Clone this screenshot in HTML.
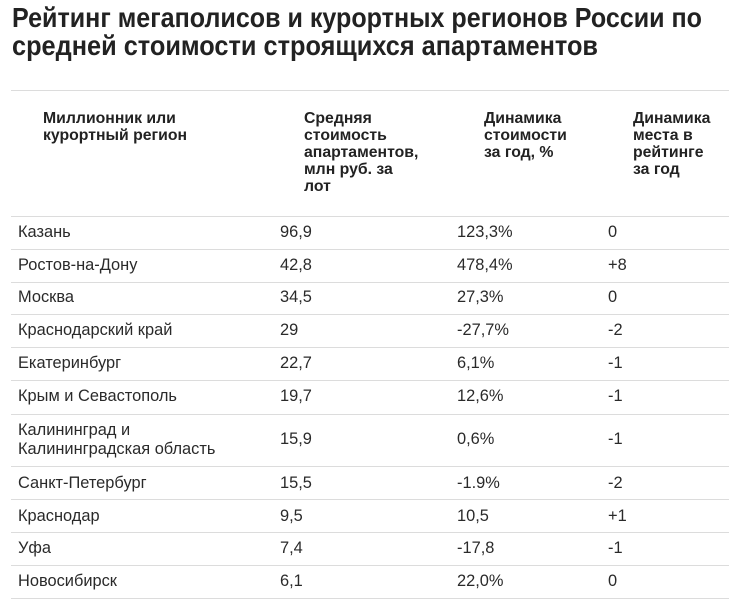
<!DOCTYPE html>
<html><head><meta charset="utf-8"><style>
body{margin:0;width:729px;height:599px;background:#fff;position:relative;overflow:hidden;font-family:"Liberation Sans","DejaVu Sans",sans-serif;color:#222}
.h{position:absolute;font-weight:bold;font-size:15.8px;line-height:17px;color:#222;white-space:nowrap}
.c{position:absolute;font-size:16.4px;line-height:19px;white-space:nowrap;color:#2a2a2a}
.ln{position:absolute;left:11px;right:0;height:1px;background:#dcdcdc}
</style></head><body>
<svg width="729" height="70" style="position:absolute;left:0;top:0">
<text x="12" y="27" font-family="Liberation Sans, sans-serif" font-weight="bold" font-size="28" fill="#222" textLength="690" lengthAdjust="spacingAndGlyphs">Рейтинг мегаполисов и курортных регионов России по</text>
<text x="12" y="55" font-family="Liberation Sans, sans-serif" font-weight="bold" font-size="28" fill="#222" textLength="586" lengthAdjust="spacingAndGlyphs">средней стоимости строящихся апартаментов</text>
</svg>
<div class="ln" style="top:90px"></div>
<div class="h" style="left:43px;top:110px">Миллионник или<br>курортный регион</div>
<div class="h" style="left:304px;top:110px">Средняя<br>стоимость<br>апартаментов,<br>млн руб. за<br>лот</div>
<div class="h" style="left:484px;top:110px">Динамика<br>стоимости<br>за год, %</div>
<div class="h" style="left:633px;top:110px">Динамика<br>места в<br>рейтинге<br>за год</div>
<div class="ln" style="top:216px"></div>
<div class="ln" style="top:249px"></div>
<div class="ln" style="top:282px"></div>
<div class="ln" style="top:314px"></div>
<div class="ln" style="top:347px"></div>
<div class="ln" style="top:380px"></div>
<div class="ln" style="top:414px"></div>
<div class="ln" style="top:466px"></div>
<div class="ln" style="top:499px"></div>
<div class="ln" style="top:532px"></div>
<div class="ln" style="top:565px"></div>
<div class="ln" style="top:598px"></div>

<div class="c" style="left:18px;top:223px">Казань</div><div class="c" style="left:280px;top:223px">96,9</div><div class="c" style="left:457px;top:223px">123,3%</div><div class="c" style="left:608px;top:223px">0</div>
<div class="c" style="left:18px;top:256px">Ростов-на-Дону</div><div class="c" style="left:280px;top:256px">42,8</div><div class="c" style="left:457px;top:256px">478,4%</div><div class="c" style="left:608px;top:256px">+8</div>
<div class="c" style="left:18px;top:288px">Москва</div><div class="c" style="left:280px;top:288px">34,5</div><div class="c" style="left:457px;top:288px">27,3%</div><div class="c" style="left:608px;top:288px">0</div>
<div class="c" style="left:18px;top:321px">Краснодарский край</div><div class="c" style="left:280px;top:321px">29</div><div class="c" style="left:457px;top:321px">-27,7%</div><div class="c" style="left:608px;top:321px">-2</div>
<div class="c" style="left:18px;top:354px">Екатеринбург</div><div class="c" style="left:280px;top:354px">22,7</div><div class="c" style="left:457px;top:354px">6,1%</div><div class="c" style="left:608px;top:354px">-1</div>
<div class="c" style="left:18px;top:387px">Крым и Севастополь</div><div class="c" style="left:280px;top:387px">19,7</div><div class="c" style="left:457px;top:387px">12,6%</div><div class="c" style="left:608px;top:387px">-1</div>
<div class="c" style="left:18px;top:421px">Калининград и<br>Калининградская область</div><div class="c" style="left:280px;top:430px">15,9</div><div class="c" style="left:457px;top:430px">0,6%</div><div class="c" style="left:608px;top:430px">-1</div>
<div class="c" style="left:18px;top:474px">Санкт-Петербург</div><div class="c" style="left:280px;top:474px">15,5</div><div class="c" style="left:457px;top:474px">-1.9%</div><div class="c" style="left:608px;top:474px">-2</div>
<div class="c" style="left:18px;top:507px">Краснодар</div><div class="c" style="left:280px;top:507px">9,5</div><div class="c" style="left:457px;top:507px">10,5</div><div class="c" style="left:608px;top:507px">+1</div>
<div class="c" style="left:18px;top:539px">Уфа</div><div class="c" style="left:280px;top:539px">7,4</div><div class="c" style="left:457px;top:539px">-17,8</div><div class="c" style="left:608px;top:539px">-1</div>
<div class="c" style="left:18px;top:572px">Новосибирск</div><div class="c" style="left:280px;top:572px">6,1</div><div class="c" style="left:457px;top:572px">22,0%</div><div class="c" style="left:608px;top:572px">0</div>
</body></html>
